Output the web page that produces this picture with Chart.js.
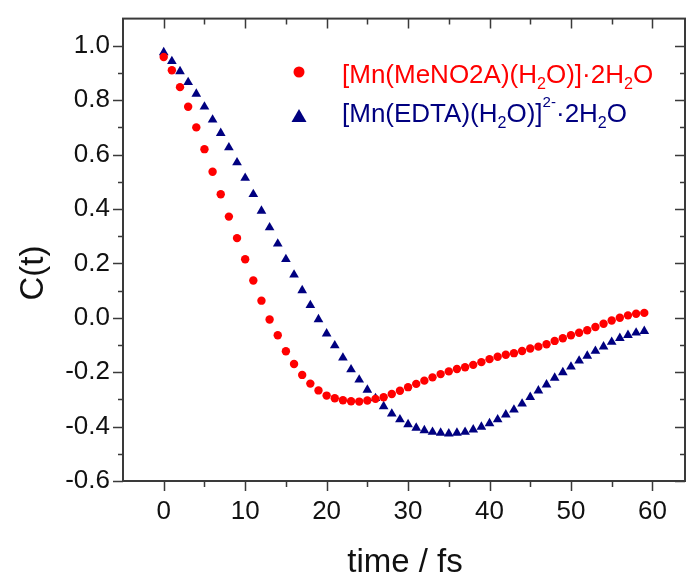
<!DOCTYPE html>
<html>
<head>
<meta charset="utf-8">
<script src="https://cdn.jsdelivr.net/npm/chart.js@4.4.1/dist/chart.umd.min.js"></script>
<style>
  body { margin: 0; background: #fff; }
  canvas { display: block; }
</style>
</head>
<body>
<canvas id="corr_chart" width="691" height="577"></canvas>
<script>
// time axis (fs)
const timeFs = [0, 1, 2, 3, 4, 5, 6, 7, 8, 9, 10, 11, 12, 13, 14, 15, 16, 17, 18, 19,
    20, 21, 22, 23, 24, 25, 26, 27, 28, 29, 30, 31, 32, 33, 34, 35, 36, 37, 38, 39,
    40, 41, 42, 43, 44, 45, 46, 47, 48, 49, 50, 51, 52, 53, 54, 55, 56, 57, 58, 59];

// [Mn(MeNO2A)(H2O)].2H2O
const meno2aValues = [0.959, 0.910, 0.848, 0.776, 0.700, 0.620, 0.537, 0.454, 0.372, 0.293,
    0.215, 0.137, 0.063, -0.006, -0.064, -0.123, -0.170, -0.210, -0.242, -0.267,
    -0.286, -0.296, -0.303, -0.307, -0.308, -0.304, -0.298, -0.292, -0.280, -0.268,
    -0.255, -0.243, -0.231, -0.219, -0.207, -0.197, -0.188, -0.182, -0.173, -0.163,
    -0.152, -0.143, -0.136, -0.130, -0.122, -0.113, -0.106, -0.097, -0.085, -0.075,
    -0.064, -0.055, -0.046, -0.034, -0.022, -0.010, 0.000, 0.009, 0.015, 0.018];

// [Mn(EDTA)(H2O)]2-.2H2O
const edtaValues = [0.976, 0.943, 0.906, 0.866, 0.823, 0.776, 0.728, 0.679, 0.626, 0.571,
    0.514, 0.454, 0.393, 0.332, 0.272, 0.215, 0.158, 0.101, 0.046, -0.006,
    -0.058, -0.102, -0.147, -0.190, -0.228, -0.265, -0.296, -0.326, -0.353, -0.374,
    -0.392, -0.405, -0.414, -0.420, -0.423, -0.426, -0.423, -0.420, -0.411, -0.401,
    -0.388, -0.374, -0.356, -0.338, -0.316, -0.292, -0.268, -0.246, -0.221, -0.201,
    -0.180, -0.158, -0.140, -0.122, -0.106, -0.089, -0.075, -0.064, -0.055, -0.049];

// legend text pieces: [text, kind]
const meno2aLabel = [['[Mn(MeNO2A)(H', ''], ['2', 'sub'], ['O)]\u00b72H', ''], ['2', 'sub'], ['O', '']];
const edtaLabel = [['[Mn(EDTA)(H', ''], ['2', 'sub'], ['O)]', ''], ['2-', 'sup'], ['\u00b72H', ''], ['2', 'sub'], ['O', '']];

const xTicks = [0, 10, 20, 30, 40, 50, 60];
const xMinorTicks = [5, 15, 25, 35, 45, 55];
const yTicks = [-0.6, -0.4, -0.2, 0.0, 0.2, 0.4, 0.6, 0.8, 1.0];
const yMinorTicks = [-0.5, -0.3, -0.1, 0.1, 0.3, 0.5, 0.7, 0.9];

const xTitle = 'time / fs';
const yTitle = 'C(t)';

const FONT = '"Liberation Sans", Arial, sans-serif';
const axisColor = '#3a3a3a';
const redColor = '#ff0000';
const navyColor = '#000080';

function drawRich(ctx, parts, x, y, size, color) {
    let cx = x;
    ctx.fillStyle = color;
    ctx.textAlign = 'left';
    ctx.textBaseline = 'alphabetic';
    parts.forEach(([txt, kind]) => {
        let fs = size, dy = 0;
        if (kind === 'sub') { fs = size * 0.62; dy = size * 0.24; }
        if (kind === 'sup') { fs = size * 0.58; dy = -size * 0.58; }
        ctx.font = fs + 'px ' + FONT;
        ctx.fillText(txt, cx, y + dy);
        cx += ctx.measureText(txt).width;
    });
}

// frame, minor/major ticks, axis titles and legend
const framePlugin = {
    id: 'frame',
    afterDraw(chart) {
        const ctx = chart.ctx;
        const area = chart.chartArea;
        const xs = chart.scales.x, ys = chart.scales.y;
        ctx.save();
        ctx.strokeStyle = axisColor;
        ctx.lineWidth = 2;
        ctx.strokeRect(area.left, area.top, area.right - area.left, area.bottom - area.top);

        ctx.lineWidth = 1.5;
        ctx.beginPath();
        const xt = (v, len) => {
            const px = Math.round(xs.getPixelForValue(v)) + 0.5;
            ctx.moveTo(px, area.bottom); ctx.lineTo(px, area.bottom + len);
            ctx.moveTo(px, area.top); ctx.lineTo(px, area.top + len);
        };
        const yt = (v, len) => {
            const py = Math.round(ys.getPixelForValue(v)) + 0.5;
            ctx.moveTo(area.left, py); ctx.lineTo(area.left - len, py);
            ctx.moveTo(area.right, py); ctx.lineTo(area.right - len, py);
        };
        xTicks.forEach(v => xt(v, 10));
        xMinorTicks.forEach(v => xt(v, 6));
        yTicks.forEach(v => yt(v, 10));
        yMinorTicks.forEach(v => yt(v, 5));
        ctx.stroke();

        // axis titles
        ctx.fillStyle = '#111';
        ctx.font = '33px ' + FONT;
        ctx.textAlign = 'center';
        ctx.textBaseline = 'alphabetic';
        ctx.fillText(xTitle, 405, 572);
        ctx.save();
        ctx.translate(43, 273);
        ctx.rotate(-Math.PI / 2);
        ctx.fillText(yTitle, 0, 0);
        ctx.restore();

        // legend
        ctx.fillStyle = redColor;
        ctx.beginPath();
        ctx.arc(299, 72, 5.5, 0, Math.PI * 2);
        ctx.fill();
        ctx.fillStyle = navyColor;
        ctx.beginPath();
        ctx.moveTo(299, 109); ctx.lineTo(306.5, 122); ctx.lineTo(291.5, 122); ctx.closePath();
        ctx.fill();
        drawRich(ctx, meno2aLabel, 342, 83, 26, redColor);
        drawRich(ctx, edtaLabel, 342, 122, 26, navyColor);
        ctx.restore();
    }
};

const tickFont = { family: FONT, size: 26 };

const corr_chart_ctx = document.getElementById('corr_chart').getContext('2d');
const corr_chart = new Chart(corr_chart_ctx, {
    type: 'scatter',
    data: {
        datasets: [
            {
                label: '[Mn(MeNO2A)(H2O)]·2H2O',
                data: timeFs.map((t, i) => ({ x: t, y: meno2aValues[i] })),
                pointStyle: 'circle',
                pointRadius: 4.2,
                backgroundColor: redColor,
                borderColor: redColor,
                borderWidth: 0
            },
            {
                label: '[Mn(EDTA)(H2O)]2-·2H2O',
                data: timeFs.map((t, i) => ({ x: t, y: edtaValues[i] })),
                pointStyle: 'triangle',
                pointRadius: 5.6,
                backgroundColor: navyColor,
                borderColor: navyColor,
                borderWidth: 0
            }
        ]
    },
    options: {
        responsive: false,
        animation: false,
        devicePixelRatio: 1,
        layout: { padding: { top: 15, right: 6, left: 0, bottom: 0 } },
        plugins: {
            legend: { display: false },
            tooltip: { enabled: false }
        },
        scales: {
            x: {
                type: 'linear',
                min: -5,
                max: 64,
                afterBuildTicks: s => { s.ticks = xTicks.map(v => ({ value: v })); },
                afterFit: s => { s.height = 96; },
                grid: { display: false, tickLength: 10 },
                border: { display: false },
                ticks: { font: tickFont, color: '#111', padding: 5, maxRotation: 0 }
            },
            y: {
                type: 'linear',
                min: -0.6,
                max: 1.1,
                afterBuildTicks: s => { s.ticks = yTicks.map(v => ({ value: v })); },
                afterFit: s => { s.width = 123; },
                grid: { display: false, tickLength: 10 },
                border: { display: false },
                ticks: {
                    font: tickFont,
                    color: '#111',
                    padding: 3,
                    callback: v => v.toFixed(1)
                }
            }
        }
    },
    plugins: [framePlugin]
});
</script>
</body>
</html>
